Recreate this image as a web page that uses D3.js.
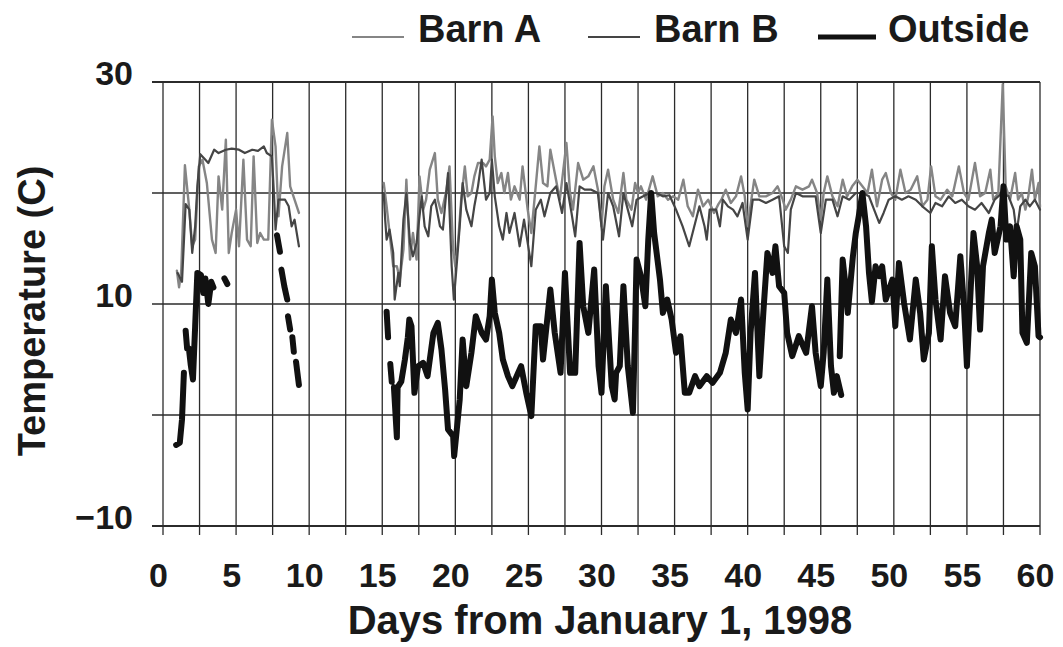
<!DOCTYPE html>
<html>
<head>
<meta charset="utf-8">
<script src="https://cdn.jsdelivr.net/npm/d3@7"></script>
<style>
  body { margin: 0; background: #fff; }
  svg { display: block; font-family: "Liberation Sans", Arial, sans-serif; font-weight: bold; }
  .lbl { fill: #1a1a1a; }
</style>
</head>
<body>
<svg id="chart" width="1063" height="647"></svg>
<script>
  // [day, temperature C]; null = gap in the logger record
  const barnA = [
    [0.95,13.0],[1.1,11.5],[1.25,13.0],[1.5,22.5],[1.8,18.5],[2.0,15.2],[2.2,15.8],[2.45,22.4],[2.7,23.0],
    [3.0,20.9],[3.35,15.8],[3.6,14.6],[3.8,21.5],[4.05,18.5],[4.3,24.8],[4.5,14.6],[4.7,16.4],[5.0,18.5],
    [5.2,15.2],[5.5,23.0],[5.75,15.8],[6.0,15.2],[6.2,23.3],[6.45,15.5],[6.65,16.4],[6.9,15.8],[7.2,15.8],
    [7.45,26.6],[7.7,24.2],[7.9,17.9],[8.15,22.4],[8.5,25.4],[8.7,20.6],[9.0,19.4],[9.3,18.2],
    null,
    [15.1,20.9],[15.3,18.8],[15.5,16.4],[15.75,13.4],[16.0,13.4],[16.2,12.2],[16.45,14.9],[16.65,21.2],
    [16.9,14.0],[17.1,16.4],[17.35,14.0],[17.55,21.5],[17.8,18.5],[18.0,19.4],[18.25,22.1],[18.6,23.6],
    [18.8,19.4],[19.05,18.2],[19.4,20.3],[19.6,22.4],[19.85,14.9],[20.0,13.4],[20.2,15.8],[20.4,19.4],
    [20.65,22.4],[20.85,19.7],[21.1,20.0],[21.3,21.5],[21.55,22.7],[21.9,22.7],[22.1,22.4],[22.35,23.0],
    [22.55,26.9],[22.7,23.3],[22.9,20.9],[23.15,21.8],[23.35,20.0],[23.6,21.8],[23.8,19.4],[24.05,20.6],
    [24.4,19.4],[24.6,22.4],[24.95,18.5],[25.2,16.4],[25.5,20.6],[25.75,24.2],[26.0,20.9],[26.3,20.6],
    [26.5,23.9],[26.8,21.8],[27.15,19.4],[27.6,24.5],[27.85,20.0],[28.05,18.5],[28.4,22.7],[28.75,21.2],
    [29.1,21.5],[29.45,22.4],[29.8,20.0],[30.0,17.0],[30.2,20.6],[30.45,22.1],[30.8,19.4],[31.15,18.2],
    [31.5,21.8],[31.7,19.4],[32.05,18.5],[32.3,20.9],[32.5,20.0],[32.7,20.6],[33.05,19.4],[33.5,21.5],
    [33.85,19.7],[34.2,20.0],[34.55,19.4],[34.9,19.7],[35.25,19.4],[35.6,21.2],[35.9,18.8],[36.25,17.9],
    [36.6,20.3],[36.95,18.8],[37.3,19.4],[37.7,18.2],[38.0,19.0],[38.2,19.4],[38.5,20.3],[38.85,19.1],
    [39.2,19.7],[39.55,21.5],[39.8,19.7],[40.0,17.0],[40.25,19.4],[40.45,21.2],[40.8,19.7],[41.25,19.7],
    [41.7,20.0],[42.05,20.6],[42.4,19.4],[42.6,18.5],[42.95,19.4],[43.3,20.6],[43.75,20.3],[44.2,20.6],
    [44.4,21.2],[44.75,20.0],[45.0,17.6],[45.2,20.0],[45.45,21.5],[45.8,19.7],[46.15,18.8],[46.5,21.2],
    [46.8,19.7],[47.15,20.6],[47.5,21.2],[47.85,20.6],[48.2,20.0],[48.5,22.1],[48.85,18.8],[49.2,21.2],
    [49.45,21.8],[49.8,20.0],[50.1,19.4],[50.45,22.1],[50.8,20.0],[51.15,20.3],[51.6,21.5],[51.95,18.8],
    [52.3,19.4],[52.55,22.4],[52.85,19.7],[53.2,19.4],[53.65,20.3],[54.0,19.7],[54.45,22.4],[54.8,20.0],
    [55.1,19.4],[55.55,22.7],[55.9,19.7],[56.25,20.0],[56.6,22.1],[56.8,19.4],[57.15,20.0],[57.45,29.8],
    [57.65,20.6],[57.95,19.4],[58.3,21.8],[58.5,19.4],[58.75,20.0],[59.0,18.5],[59.2,19.7],[59.45,22.1],
    [59.65,19.4],[59.9,20.9],[60.0,18.8]
  ];

  const barnB = [
    [1.0,12.8],[1.3,12.0],[1.55,19.0],[1.8,18.5],[2.0,14.6],[2.2,17.0],[2.35,20.6],[2.55,23.5],[2.9,23.0],
    [3.1,22.7],[3.5,23.9],[3.8,23.6],[4.3,23.9],[4.7,24.0],[5.2,23.9],[5.6,23.6],[6.1,23.9],[6.5,23.8],
    [6.9,24.2],[7.1,23.6],[7.45,23.3],[7.6,19.7],[7.7,16.7],[7.9,19.4],[8.15,19.4],[8.35,19.4],[8.6,18.8],
    [8.8,17.0],[9.0,17.6],[9.3,15.2],
    null,
    [15.1,20.0],[15.2,17.6],[15.3,15.8],[15.5,16.7],[15.75,14.6],[15.85,10.4],[16.1,12.8],[16.2,11.6],
    [16.45,17.6],[16.65,20.0],[16.9,15.5],[17.1,14.3],[17.35,15.5],[17.7,19.7],[17.9,17.0],[18.15,16.1],
    [18.35,18.8],[18.6,19.4],[18.95,17.0],[19.15,16.7],[19.5,21.8],[19.75,13.4],[19.9,10.4],[20.05,12.8],
    [20.3,17.0],[20.5,20.9],[20.75,18.5],[21.1,17.0],[21.3,18.8],[21.55,20.6],[21.8,23.0],[22.1,19.4],
    [22.35,20.0],[22.5,23.0],[22.7,19.7],[23.0,17.0],[23.25,15.8],[23.5,18.2],[23.7,16.4],[24.05,18.2],
    [24.4,15.2],[24.7,17.6],[24.95,15.5],[25.2,13.4],[25.5,18.5],[25.85,19.4],[26.1,17.9],[26.5,20.0],
    [26.9,20.6],[27.3,18.2],[27.6,20.9],[27.95,18.2],[28.2,16.1],[28.5,20.6],[28.85,20.3],[29.3,20.3],
    [29.75,20.0],[30.1,15.8],[30.45,20.0],[30.8,18.8],[31.2,16.1],[31.5,20.0],[31.8,18.5],[32.1,17.0],
    [32.4,19.4],[32.85,19.7],[33.3,20.0],[33.75,20.0],[34.2,19.7],[34.65,19.8],[35.1,18.5],[35.55,17.0],
    [36.0,15.2],[36.35,17.0],[36.7,18.8],[37.05,17.0],[37.2,15.8],[37.4,18.5],[37.85,18.5],[38.1,17.0],
    [38.3,19.4],[38.65,18.8],[39.0,18.5],[39.3,17.9],[39.65,19.1],[40.0,15.8],[40.35,19.4],[40.8,19.4],
    [41.25,19.1],[41.7,19.4],[42.15,19.7],[42.5,15.2],[42.75,14.6],[42.95,18.5],[43.3,20.0],[43.75,19.7],
    [44.2,19.7],[44.65,19.7],[45.0,16.4],[45.35,19.4],[45.8,19.4],[46.15,17.9],[46.5,19.7],[46.95,19.4],
    [47.4,20.0],[47.85,20.0],[48.3,19.7],[48.65,18.5],[49.0,17.3],[49.3,18.2],[49.65,19.4],[50.1,19.7],
    [50.55,19.4],[51.0,19.7],[51.5,19.4],[51.95,18.8],[52.5,18.2],[52.85,19.1],[53.3,18.8],[53.75,19.7],
    [54.2,19.1],[54.65,19.4],[55.1,18.8],[55.55,18.5],[56.0,19.1],[56.5,18.2],[56.9,19.4],[57.4,20.0],
    [57.85,19.7],[58.2,18.5],[58.4,16.4],[58.65,18.8],[59.0,19.4],[59.3,18.8],[59.65,19.4],[60.0,18.5]
  ];

  const outside = [
    [0.9,-2.7],[1.15,-2.5],[1.3,-0.4],[1.43,3.8],
    null,
    [1.55,7.6],[1.65,6.0],[1.77,6.0],[1.9,4.5],[2.05,3.2],[2.2,8.0],[2.35,12.8],[2.6,12.6],[2.75,11.0],
    [2.9,12.3],[3.1,10.0],[3.3,12.0],[3.45,11.5],
    null,
    [4.2,12.3],[4.4,11.8],
    null,
    [7.8,16.2],[8.0,14.7],
    null,
    [8.1,13.1],[8.3,11.6],[8.5,10.4],
    null,
    [8.55,8.9],[8.7,7.7],
    null,
    [8.85,7.0],[8.95,5.7],
    null,
    [9.1,4.8],[9.3,2.7],
    null,
    [15.3,9.3],[15.4,7.0],
    null,
    [15.55,4.6],[15.65,3.0],
    null,
    [15.8,2.5],[16.0,-2.0],[16.05,2.5],[16.3,3.0],[16.55,5.0],[16.75,7.0],[16.85,8.6],[17.0,8.0],
    [17.2,2.0],[17.45,4.4],[17.8,4.7],[18.1,3.5],[18.5,7.4],[18.8,8.3],[19.05,5.9],[19.3,2.3],[19.5,-1.3],
    [19.85,-1.9],[19.92,-3.7],[20.1,-1.3],[20.3,1.4],[20.5,6.8],[20.75,2.6],[21.1,5.6],[21.4,8.9],
    [21.8,7.4],[22.1,6.8],[22.35,8.9],[22.5,12.2],[22.7,9.2],[23.0,7.4],[23.25,5.0],[23.6,3.5],[23.9,2.6],
    [24.3,3.8],[24.5,4.4],[24.85,2.0],[25.2,-0.1],[25.5,8.0],[25.85,8.0],[26.0,5.0],[26.5,11.3],[26.8,7.4],
    [27.2,3.8],[27.5,12.8],[27.85,3.8],[28.2,3.8],[28.5,15.5],[28.75,9.8],[29.1,7.4],[29.5,13.1],
    [29.8,4.4],[30.0,2.0],[30.3,11.6],[30.7,2.6],[30.9,1.4],[31.0,3.8],[31.25,4.4],[31.5,11.6],[31.8,4.4],
    [32.15,0.2],[32.3,8.0],[32.4,14.0],[32.7,12.5],[33.0,9.8],[33.2,15.8],[33.4,20.0],[33.6,16.4],
    [34.0,12.2],[34.2,9.2],[34.5,10.4],[34.8,8.6],[35.1,5.6],[35.4,7.1],[35.7,2.0],[36.0,2.0],[36.4,3.5],
    [36.7,2.6],[37.2,3.5],[37.6,2.9],[38.1,3.8],[38.5,5.6],[38.85,8.6],[39.2,7.4],[39.55,10.4],[39.8,3.8],
    [40.0,0.5],[40.2,7.4],[40.5,12.8],[40.8,3.5],[41.1,9.8],[41.35,14.6],[41.7,12.8],[41.9,15.2],
    [42.15,11.6],[42.5,11.0],[42.7,7.4],[43.05,5.3],[43.5,7.1],[44.0,5.6],[44.4,9.8],[44.65,5.6],
    [45.0,2.6],[45.2,5.6],[45.45,12.2],[45.7,4.4],[45.9,2.0],[46.1,3.5],[46.4,1.8],
    null,
    [46.3,5.3],[46.5,14.0],[46.7,11.6],[46.85,9.2],[47.2,14.3],[47.4,16.4],[47.6,17.9],[47.85,20.0],
    [48.1,17.0],[48.3,12.8],[48.5,10.2],[48.75,13.4],[49.0,12.5],[49.2,13.4],[49.45,10.4],[49.9,12.2],
    [50.1,8.0],[50.35,13.7],[50.7,10.1],[51.1,6.8],[51.5,12.2],[51.8,9.2],[52.05,5.0],[52.4,7.4],
    [52.6,15.2],[52.85,10.4],[53.2,6.8],[53.5,12.5],[53.85,9.2],[54.2,8.0],[54.55,14.3],[54.8,9.8],
    [55.0,4.4],[55.2,9.8],[55.45,16.4],[55.7,13.4],[55.9,7.7],[56.1,13.4],[56.5,16.4],[56.7,17.6],
    [56.9,14.6],[57.3,17.0],[57.5,20.6],[57.7,15.8],[57.95,17.0],[58.2,12.5],[58.4,17.0],[58.65,15.8],
    [58.8,7.4],[59.1,6.5],[59.4,14.6],[59.65,13.4],[59.9,7.1],[60.0,7.0]
  ];

  const xLabels = [0, 5, 10, 15, 20, 25, 30, 35, 40, 45, 50, 55, 60];
  const xGrid = [0, 2.5, 5, 7.5, 10, 12.5, 15, 17.5, 20, 22.5, 25, 27.5, 30, 32.5, 35, 37.5,
                 40, 42.5, 45, 47.5, 50, 52.5, 55, 57.5, 60];
  const yLabels = [30, 10, -10];
  const yGrid = [-10, 0, 10, 20, 30];

  const legendItems = [
    { name: "Barn A", color: "#858585", width: 2.4 },
    { name: "Barn B", color: "#454545", width: 2.2 },
    { name: "Outside", color: "#111", width: 6 }
  ];

  const svg = d3.select("#chart");
  const plot = { left: 163, right: 1040, top: 82, bottom: 526 };

  const x = d3.scaleLinear().domain([0, 60]).range([plot.left, plot.right]);
  const y = d3.scaleLinear().domain([-10, 30]).range([plot.bottom, plot.top]);

  svg.append("rect").attr("width", 1063).attr("height", 647).attr("fill", "#fff");

  // grid
  const grid = svg.append("g").attr("stroke", "#2b2b2b");
  grid.selectAll(".vg")
    .data(xGrid)
    .enter().append("line")
      .attr("x1", d => x(d)).attr("x2", d => x(d))
      .attr("y1", y(30)).attr("y2", y(-10) + 9)
      .attr("stroke-width", 1.3);
  grid.selectAll(".hg")
    .data(yGrid)
    .enter().append("line")
      .attr("x1", plot.left - 11).attr("x2", plot.right)
      .attr("y1", d => y(d)).attr("y2", d => y(d))
      .attr("stroke-width", d => (d === 30 || d === -10) ? 2 : 1.6);

  // axis labels
  svg.append("g")
    .attr("transform", `translate(0,563)`)
    .call(d3.axisBottom(x).tickValues(xLabels).tickSize(0).tickPadding(0))
    .call(g => g.select(".domain").remove())
    .selectAll("text")
      .attr("class", "lbl")
      .attr("font-size", 34)
      .attr("font-family", "Liberation Sans, Arial, sans-serif")
      .attr("font-weight", "bold")
      .attr("dx", -5);

  svg.append("g")
    .attr("transform", `translate(133,0)`)
    .call(d3.axisLeft(y).tickValues(yLabels).tickSize(0).tickPadding(0))
    .call(g => g.select(".domain").remove())
    .selectAll("text")
      .attr("class", "lbl")
      .attr("font-size", 34)
      .attr("font-family", "Liberation Sans, Arial, sans-serif")
      .attr("font-weight", "bold")
      .attr("dy", "0.08em");

  svg.append("text")
    .attr("class", "lbl")
    .attr("x", 600).attr("y", 634)
    .attr("text-anchor", "middle")
    .attr("font-size", 40)
    .text("Days from January 1, 1998");

  svg.append("text")
    .attr("class", "lbl")
    .attr("transform", `translate(45,311) rotate(-90)`)
    .attr("text-anchor", "middle")
    .attr("font-size", 38)
    .text("Temperature (C)");

  // series
  const line = d3.line()
    .defined(d => d !== null)
    .x(d => x(d[0]))
    .y(d => y(d[1]));

  const series = [barnA, barnB, outside];
  svg.append("g").selectAll("path")
    .data(series)
    .enter().append("path")
      .attr("d", d => line(d))
      .attr("fill", "none")
      .attr("stroke", (d, i) => legendItems[i].color)
      .attr("stroke-width", (d, i) => legendItems[i].width)
      .attr("stroke-linejoin", "round")
      .attr("stroke-linecap", "round");

  // legend
  const legendX = [352, 588, 818];
  const legend = svg.append("g");
  legendItems.forEach((item, i) => {
    legend.append("line")
      .attr("x1", legendX[i]).attr("x2", legendX[i] + (i === 2 ? 58 : 52))
      .attr("y1", 37).attr("y2", 37)
      .attr("stroke", item.color)
      .attr("stroke-width", i === 2 ? 5 : 2.2);
    legend.append("text")
      .attr("class", "lbl")
      .attr("x", legendX[i] + (i === 2 ? 70 : 66)).attr("y", 42)
      .attr("font-size", 38)
      .text(item.name);
  });
</script>
</body>
</html>
